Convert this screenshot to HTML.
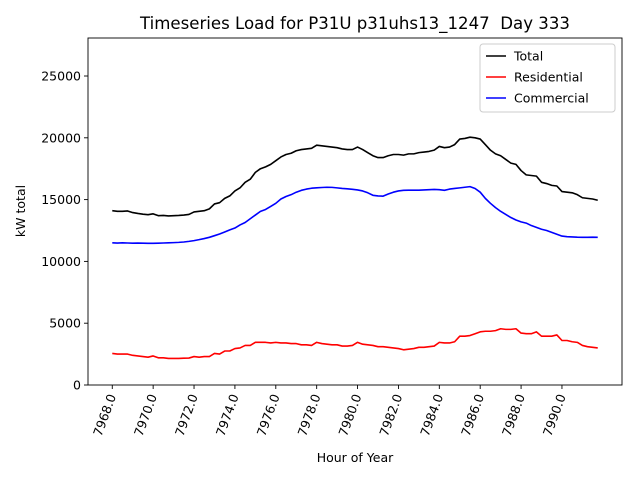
<!DOCTYPE html>
<html><head><meta charset="utf-8"><style>
body{margin:0;background:#fff;}
svg{font-family:"DejaVu Sans","Liberation Sans",sans-serif;}
</style></head><body>
<svg id="chart" width="640" height="480"></svg>
<script>
const hoursStart = 7968;
const stepHours = 0.25;
const totalValues = [14100,14050,14050,14080,13950,13880,13820,13780,13850,13700,13720,13680,13700,13720,13750,13800,14000,14050,14100,14250,14650,14750,15100,15300,15700,15950,16400,16650,17200,17500,17650,17850,18150,18450,18650,18750,18950,19050,19100,19150,19400,19350,19300,19250,19200,19100,19050,19050,19250,19050,18800,18550,18400,18400,18550,18650,18650,18600,18700,18700,18800,18850,18900,19000,19300,19200,19250,19450,19900,19950,20050,20000,19900,19450,19000,18700,18550,18250,17950,17850,17350,17000,16950,16900,16400,16300,16150,16100,15650,15600,15550,15400,15150,15100,15050,14950];
const residentialValues = [2550,2500,2500,2500,2400,2350,2300,2250,2350,2200,2200,2150,2150,2150,2170,2180,2300,2250,2300,2300,2550,2500,2750,2750,2950,3000,3200,3200,3450,3450,3450,3400,3450,3400,3400,3350,3350,3250,3250,3200,3450,3350,3300,3250,3250,3150,3150,3200,3450,3300,3250,3200,3100,3100,3050,3000,2950,2850,2900,2950,3050,3050,3100,3150,3450,3400,3400,3500,3950,3950,4000,4150,4300,4350,4350,4400,4550,4500,4500,4550,4200,4150,4150,4300,3950,3950,3950,4050,3600,3600,3500,3450,3200,3100,3050,3000];
const commercialValues = [11500,11480,11500,11490,11470,11480,11470,11460,11460,11470,11490,11500,11520,11540,11570,11620,11680,11760,11850,11950,12080,12220,12380,12550,12700,12950,13150,13450,13750,14050,14200,14450,14700,15050,15250,15400,15600,15750,15850,15920,15950,15980,16000,15990,15950,15900,15870,15830,15780,15700,15550,15350,15300,15280,15450,15600,15700,15750,15760,15760,15760,15780,15800,15820,15800,15750,15850,15900,15950,16000,16050,15900,15600,15100,14700,14350,14050,13800,13550,13350,13200,13100,12900,12750,12600,12500,12350,12200,12050,12000,11980,11960,11950,11950,11960,11950];
const xTickValues = [7968,7970,7972,7974,7976,7978,7980,7982,7984,7986,7988,7990];
const yTickValues = [0,5000,10000,15000,20000,25000];

const NS="http://www.w3.org/2000/svg";
const svg=document.getElementById('chart');
const L=88,R=622,T=38,B=385;
const n=totalValues.length;
const xMin0=hoursStart, xMax0=hoursStart+(n-1)*stepHours;
const pad=(xMax0-xMin0)*0.05;
const xMin=xMin0-pad, xMax=xMax0+pad;
const yMin=0, yMax=28075;
function xs(v){return L+(v-xMin)/(xMax-xMin)*(R-L);}
function ys(v){return B-(v-yMin)/(yMax-yMin)*(B-T);}
function mk(tag,attrs,text){const e=document.createElementNS(NS,tag);for(const k in attrs)e.setAttribute(k,attrs[k]);if(text!==undefined)e.textContent=text;svg.appendChild(e);return e;}

let e;
e=mk('text',{x:355,y:29,'text-anchor':'middle','font-size':'16.6',style:'white-space:pre'},'Timeseries Load for P31U p31uhs13_1247  Day 333');



function series(vals,color,name){
  const pts=vals.map((v,i)=>xs(hoursStart+i*stepHours).toFixed(2)+','+ys(v).toFixed(2)).join(' ');
  const p=mk('polyline',{points:pts,fill:'none',stroke:color,'stroke-width':1.6,'stroke-linejoin':'round'});
  
  
}
series(totalValues,'#000','total-line');
series(residentialValues,'#ff0000','residential-line');
series(commercialValues,'#0000ff','commercial-line');

e=mk('rect',{x:L,y:T,width:R-L,height:B-T,fill:'none',stroke:'#000','stroke-width':0.9});



xTickValues.forEach(v=>{
  const x=xs(v);
  const t=mk('line',{x1:x,x2:x,y1:B,y2:B+4,stroke:'#000','stroke-width':0.9});
  
  
  const lb=mk('text',{x:x+4,y:B+11,'font-size':'12.5','text-anchor':'end',transform:'rotate(-70 '+(x+4)+' '+(B+11)+')'},v.toFixed(1));
  
  
});
yTickValues.forEach(v=>{
  const y=ys(v);
  const t=mk('line',{x1:L-4,x2:L,y1:y,y2:y,stroke:'#000','stroke-width':0.9});
  
  
  const lb=mk('text',{x:L-7,y:y+4.5,'font-size':'12.5','text-anchor':'end'},String(v));
  
  
});
e=mk('text',{x:355,y:462,'font-size':'12.5','text-anchor':'middle'},'Hour of Year');


e=mk('text',{x:25,y:211,'font-size':'12.5','text-anchor':'middle',transform:'rotate(-90 25 211)'},'kW total');



e=mk('rect',{x:480,y:44,width:135,height:68,rx:3,fill:'#fff','fill-opacity':0.8,stroke:'#ccc','stroke-width':1});


[['Total','#000'],['Residential','#ff0000'],['Commercial','#0000ff']].forEach((d,i)=>{
  const y=56+i*21;
  const ln=mk('line',{x1:486,x2:506,y1:y,y2:y,stroke:d[1],'stroke-width':1.6});
  
  
  const tx=mk('text',{x:514,y:y+4.5,'font-size':'12.5'},d[0]);
  
  
});
</script>
</body></html>
